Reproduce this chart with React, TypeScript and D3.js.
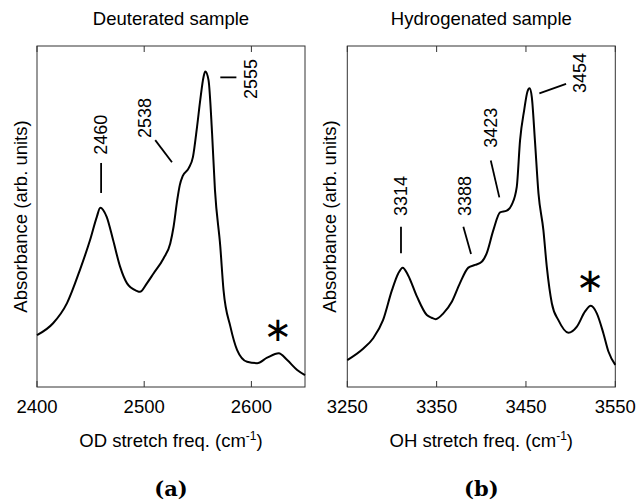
import React from "react";
import * as d3 from "d3";

// ---------- data ----------
const odFreq = [2400, 2415, 2428, 2440, 2449.5, 2455.8, 2459, 2465, 2471, 2477.5, 2484, 2493, 2496, 2502.5, 2508.7, 2518, 2524.3, 2527.4, 2530.8, 2533.2, 2536, 2541.4, 2545.5, 2549.3, 2552.3, 2555.4, 2557, 2560, 2563.3, 2566, 2571, 2574, 2580.4, 2586.6, 2596, 2605.3, 2614.7, 2625.5, 2633.4, 2642.7, 2650];
const odAbs = [0.152, 0.187, 0.246, 0.343, 0.431, 0.499, 0.526, 0.499, 0.431, 0.353, 0.304, 0.282, 0.279, 0.304, 0.333, 0.377, 0.421, 0.47, 0.548, 0.592, 0.619, 0.641, 0.675, 0.763, 0.842, 0.91, 0.925, 0.9, 0.745, 0.578, 0.411, 0.284, 0.177, 0.109, 0.074, 0.07, 0.086, 0.099, 0.079, 0.05, 0.035];

const ohFreq = [3250, 3268, 3279, 3290, 3300, 3307, 3312, 3318, 3328, 3339, 3344.5, 3349, 3357.5, 3367, 3376, 3385.5, 3393, 3400.5, 3406, 3413.5, 3421, 3428.5, 3434, 3439.7, 3443.4, 3448, 3451.6, 3454, 3456.5, 3460, 3464, 3469.5, 3473.3, 3479, 3486.3, 3497.5, 3507, 3516, 3522.6, 3529.3, 3536.7, 3542.3, 3550];
const ohAbs = [0.079, 0.113, 0.143, 0.196, 0.284, 0.333, 0.35, 0.328, 0.265, 0.211, 0.203, 0.199, 0.216, 0.25, 0.304, 0.35, 0.358, 0.367, 0.392, 0.46, 0.512, 0.517, 0.534, 0.587, 0.724, 0.812, 0.866, 0.876, 0.851, 0.724, 0.568, 0.46, 0.353, 0.245, 0.196, 0.159, 0.177, 0.221, 0.238, 0.216, 0.157, 0.104, 0.065];

const odTicks = [2400, 2500, 2600];
const ohTicks = [3250, 3350, 3450, 3550];

const odLabels = ["2460", "2538", "2555"];
const odLabelPos = [[2459.8, 0.74], [2500.9, 0.789], [2600, 0.903]];
const odLines = [[2459.8, 0.657, 2459.8, 0.569], [2510.3, 0.724, 2525.9, 0.659], [2571, 0.908, 2586, 0.908]];
const odStar = [2624.6, 0.17];

const ohLabels = ["3314", "3388", "3423", "3454"];
const ohLabelPos = [[3310.1, 0.56], [3381.2, 0.56], [3410.4, 0.76], [3510.6, 0.921]];
const ohLines = [[3310.1, 0.47, 3310.1, 0.392], [3379.9, 0.47, 3388.5, 0.39], [3410.6, 0.664, 3420.2, 0.556], [3465, 0.861, 3494.9, 0.889]];
const ohStar = [3521.8, 0.314];

const FONT = "'Liberation Sans', Arial, Helvetica, sans-serif";
const TOP = 46;
const BOTTOM = 387;

type PanelProps = {
  x0: number; x1: number; domain: [number, number]; ticks: number[];
  freq: number[]; abs: number[]; title: string; xlabel: string; tag: string;
  labels: string[]; labelPos: number[][]; lines: number[][]; star: number[];
  ylabelX: number;
};

function Panel(p: PanelProps) {
  const x = d3.scaleLinear().domain(p.domain).range([p.x0, p.x1]);
  const y = d3.scaleLinear().domain([0, 1]).range([BOTTOM, TOP]);
  const line = d3.line<number>().x((_, i) => x(p.freq[i])).y((d) => y(d)).curve(d3.curveMonotoneX);
  const cx = (p.x0 + p.x1) / 2;
  return (
    <g>
      <text x={cx} y={25} textAnchor="middle" fontFamily={FONT} fontSize={18.5}>{p.title}</text>
      <rect x={p.x0} y={TOP} width={p.x1 - p.x0} height={BOTTOM - TOP} fill="none" stroke="#333" strokeWidth={1} />
      {p.ticks.map((t) => (
        <g key={t}>
          <line x1={x(t)} x2={x(t)} y1={BOTTOM} y2={BOTTOM - 6} stroke="#333" strokeWidth={1} />
          <line x1={x(t)} x2={x(t)} y1={TOP} y2={TOP + 6} stroke="#333" strokeWidth={1} />
          <text x={x(t)} y={413} textAnchor="middle" fontFamily={FONT} fontSize={18.5}>{t}</text>
        </g>
      ))}
      <path d={line(p.abs) || ""} fill="none" stroke="#000" strokeWidth={2} strokeLinejoin="round" />
      {p.lines.map((l, i) => (
        <line key={"l" + i} x1={x(l[0])} y1={y(l[1])} x2={x(l[2])} y2={y(l[3])} stroke="#000" strokeWidth={1.8} />
      ))}
      {p.labels.map((s, i) => (
        <text key={"t" + i} transform={`translate(${x(p.labelPos[i][0])},${y(p.labelPos[i][1])}) rotate(-90)`}
          textAnchor="middle" dominantBaseline="central" fontFamily={FONT} fontSize={18}>{s}</text>
      ))}
      <text x={x(p.star[0])} y={y(p.star[1])} textAnchor="middle" dominantBaseline="central"
        fontFamily="'DejaVu Sans', sans-serif" fontSize={34}>∗</text>
      <text transform={`translate(${p.ylabelX},${(TOP + BOTTOM) / 2}) rotate(-90)`} textAnchor="middle"
        fontFamily={FONT} fontSize={18.5}>Absorbance (arb. units)</text>
      <text x={cx} y={447} textAnchor="middle" fontFamily={FONT} fontSize={18.5}>
        {p.xlabel} (cm<tspan dy={-7} fontSize={12}>-1</tspan><tspan dy={7}>)</tspan>
      </text>
      <text x={cx} y={496} textAnchor="middle" fontFamily="'DejaVu Serif', serif" fontWeight="bold" fontSize={21}>{p.tag}</text>
    </g>
  );
}

export default function App() {
  return (
    <svg width={641} height={504} style={{ position: "absolute", left: 0, top: 0, background: "#fff" }}>
      <rect width={641} height={504} fill="#fff" />
      <Panel x0={37} x1={305} domain={[2400, 2650]} ticks={odTicks} freq={odFreq} abs={odAbs}
        title="Deuterated sample" xlabel="OD stretch freq." tag="(a)" labels={odLabels}
        labelPos={odLabelPos} lines={odLines} star={odStar} ylabelX={27} />
      <Panel x0={347.3} x1={615.3} domain={[3250, 3550]} ticks={ohTicks} freq={ohFreq} abs={ohAbs}
        title="Hydrogenated sample" xlabel="OH stretch freq." tag="(b)" labels={ohLabels}
        labelPos={ohLabelPos} lines={ohLines} star={ohStar} ylabelX={336} />
    </svg>
  );
}
